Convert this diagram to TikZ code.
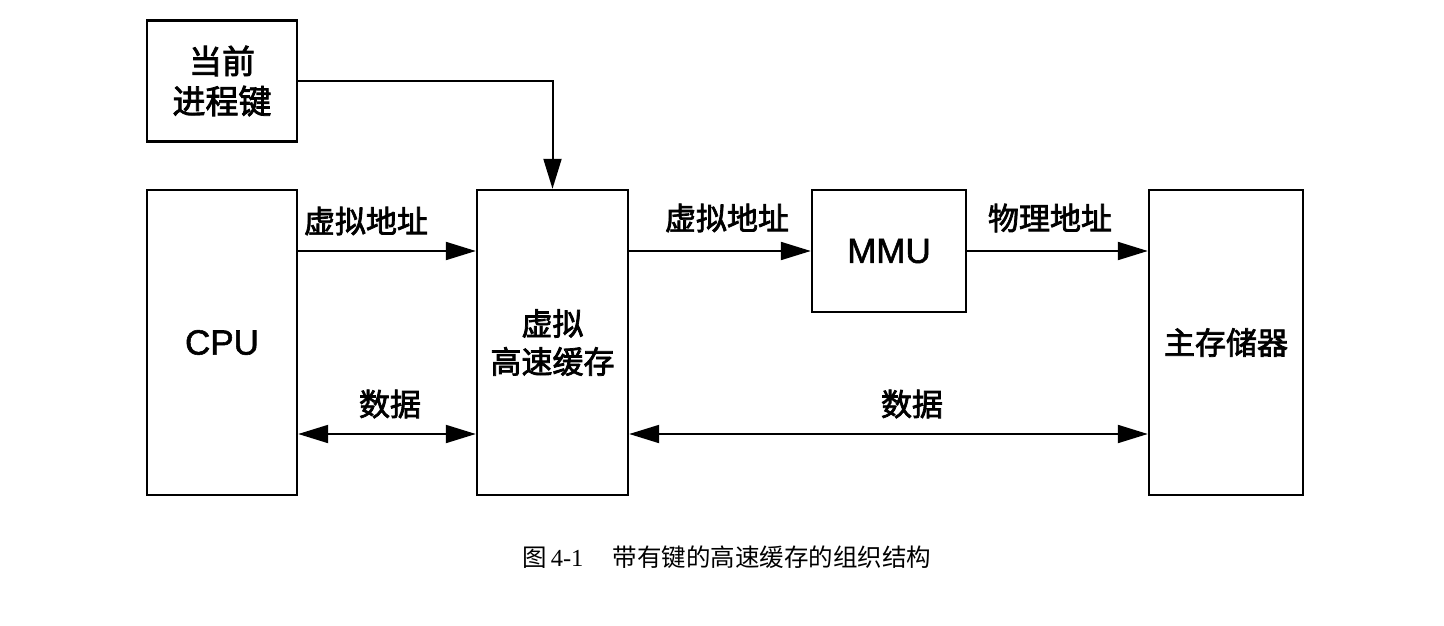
\documentclass[tikz,border=0pt]{standalone}
\usepackage{fontspec}
\setmainfont{Liberation Sans}
\newfontfamily\latm{Liberation Sans}[FakeBold=1.6]
\newfontfamily\cjk{Noto Sans CJK SC}[FakeBold=2.4]
\newfontfamily\cjkcap{Noto Sans CJK SC}
\newfontfamily\latinserif{Liberation Serif}
\usetikzlibrary{arrows.meta}
\begin{document}
\begin{tikzpicture}[x=1pt,y=-1pt,
  blk/.style={draw,line width=2.4pt,inner sep=0pt,align=center},
  lbl/.style={font=\fontsize{31}{34}\selectfont\cjk},
  lat/.style={font=\fontsize{35}{38}\selectfont\latm},
  conn/.style={line width=2pt,-{Triangle[length=30pt,width=18pt]}},
  bconn/.style={line width=2pt,{Triangle[length=30pt,width=18pt]}-{Triangle[length=30pt,width=18pt]}}]
\useasboundingbox (0,0) rectangle (1444,626);

% blocks
\node[blk,minimum width=150pt,minimum height=121pt,font=\fontsize{33}{40}\selectfont\cjk] (key) at (222,81) {当前\\进程键};
\node[blk,minimum width=150pt,minimum height=305pt,lat] (cpu) at (222,342.5) {CPU};
\node[blk,minimum width=151pt,minimum height=305pt,font=\fontsize{31}{38}\selectfont\cjk] (cache) at (552.5,342.5) {虚拟\\高速缓存};
\node[blk,minimum width=154pt,minimum height=122pt,lat] (mmu) at (889,251) {MMU};
\node[blk,minimum width=154pt,minimum height=305pt,lbl] (mem) at (1226,342.5) {主存储器};

% connectors
\coordinate (dy) at (0,434);
\draw[conn] (key.east) -| (cache.north);
\draw[conn] (cpu.east |- mmu.west) -- (cache.west |- mmu.west);
\draw[conn] (cache.east |- mmu.west) -- (mmu.west);
\draw[conn] (mmu.east) -- (mem.west |- mmu.east);
\draw[bconn] (cpu.east |- dy) -- (cache.west |- dy);
\draw[bconn] (cache.east |- dy) -- (mem.west |- dy);

% connector labels
\node[lbl] (l1) at (366,221) {虚拟地址};
\node[lbl] (l2) at (727,218) {虚拟地址};
\node[lbl] (l3) at (1050,218) {物理地址};
\node[lbl] (l4) at (390,404) {数据};
\node[lbl] (l5) at (912,404) {数据};

% caption
\node[anchor=west,inner sep=0pt,font=\fontsize{24.5}{28}\selectfont] (cap) at (522,557)
  {{\cjkcap 图}\,{\latinserif 4-1}\hspace{1.2em}{\cjkcap 带有键的高速缓存的组织结构}};
\end{tikzpicture}
\end{document}
